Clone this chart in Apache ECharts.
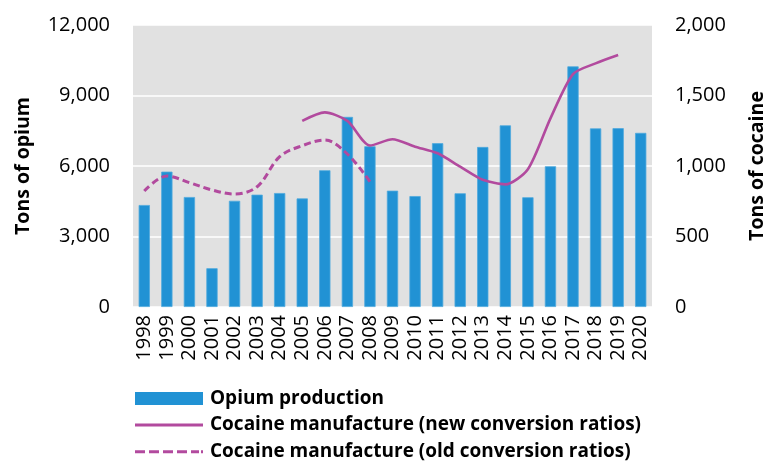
<!DOCTYPE html>
<html>
<head>
<meta charset="utf-8">
<script src="https://cdn.jsdelivr.net/npm/echarts@6/dist/echarts.min.js"></script>
<style>html,body{margin:0;padding:0;background:#fff}#c{width:765px;height:462px}</style>
</head>
<body>
<div id="c"></div>
<script>
const years = ['1998','1999','2000','2001','2002','2003','2004','2005','2006','2007','2008','2009','2010','2011','2012','2013','2014','2015','2016','2017','2018','2019','2020'];
const opium = [4340,5760,4680,1650,4520,4780,4850,4620,5820,8090,6840,4950,4720,6970,4840,6810,7730,4670,5990,10240,7600,7610,7410];
const cocaineNew = [null,null,null,null,null,null,null,1320,1380,1320,1145,1190,1137,1090,995,902,870,977,1338,1652,1728,1787,null];
const cocaineOld = [823,929,882,830,801,853,1066,1144,1184,1085,889,null,null,null,null,null,null,null,null,null,null,null,null];
const opiumTicks = [0,3000,6000,9000,12000];
const cocaineTicks = [0,500,1000,1500,2000];
const seriesNames = ['Opium production','Cocaine manufacture (new conversion ratios)','Cocaine manufacture (old conversion ratios)'];

const FONT = '"Open Sans", "Noto Sans", sans-serif';
const LINE = '#B24A9E';
const fmt = v => v.toLocaleString('en-US');
const icons = [
  'rect',
  'path://M0,0H68V3H0Z',
  'path://M0,0H10V3H0Z M14,0H24V3H14Z M28,0H38V3H28Z M42,0H52V3H42Z M56,0H64V3H56Z M66,0H68V3H66Z'
];
const iconH = [13,3,3];
const rowTop = [388.5,415,441.7];
const legends = seriesNames.map((n,i) => ({
  orient:'horizontal', left:135, top:rowTop[i], itemWidth:68, itemHeight:iconH[i], itemGap:7, padding:0,
  symbolKeepAspect:false,
  itemStyle:{borderWidth:0},
  textStyle:{fontFamily:FONT, fontWeight:'bold', fontSize:19, color:'#000', lineHeight:20, padding:[0,0,0,2]},
  data:[{name:n, icon:icons[i]}]
}));
const chart = echarts.init(document.getElementById('c'), null, {renderer:'canvas'});
chart.setOption({
  animation: false,
  textStyle: {fontFamily: FONT},
  grid: {left:133, right:113, top:25, bottom:155, show:true, backgroundColor:'#E1E1E1', borderWidth:0, containLabel:false, outerBoundsMode:'none'},
  legend: legends,
  xAxis: {
    type:'category', data:years,
    axisLine:{show:false}, axisTick:{show:false},
    axisLabel:{rotate:90, interval:0, fontSize:20, color:'#000', margin:8, fontFamily:FONT}
  },
  yAxis: [{
    type:'value', min:opiumTicks[0], max:opiumTicks[opiumTicks.length-1], interval:opiumTicks[1]-opiumTicks[0],
    name:'Tons of opium', nameLocation:'middle', nameRotate:90, nameGap:100,
    nameTextStyle:{fontWeight:'bold', fontSize:19.5, color:'#000', fontFamily:FONT},
    axisLabel:{fontSize:20, color:'#000', margin:23, formatter:fmt, fontFamily:FONT},
    splitLine:{lineStyle:{color:'#fff', width:1.5}}, axisLine:{show:false}, axisTick:{show:false}
  },{
    type:'value', min:cocaineTicks[0], max:cocaineTicks[cocaineTicks.length-1], interval:cocaineTicks[1]-cocaineTicks[0],
    name:'Tons of cocaine', nameLocation:'middle', nameRotate:90, nameGap:95,
    nameTextStyle:{fontWeight:'bold', fontSize:19.5, color:'#000', fontFamily:FONT},
    axisLabel:{fontSize:20, color:'#000', margin:23, formatter:fmt, fontFamily:FONT},
    splitLine:{show:false}, axisLine:{show:false}, axisTick:{show:false}
  }],
  series: [{
    name:seriesNames[0], type:'bar', data:opium, barWidth:'50%',
    itemStyle:{color:'#2192D4', borderColor:'#4FA9DD', borderWidth:0.8}
  },{
    name:seriesNames[1], type:'line', yAxisIndex:1, data:cocaineNew,
    symbol:'none', smooth:0.25, lineStyle:{color:LINE, width:2.6}, itemStyle:{color:LINE}
  },{
    name:seriesNames[2], type:'line', yAxisIndex:1, data:cocaineOld,
    symbol:'none', smooth:0.35, lineStyle:{color:LINE, width:3, type:[7,4]}, itemStyle:{color:LINE}
  }]
});
</script>
</body>
</html>
